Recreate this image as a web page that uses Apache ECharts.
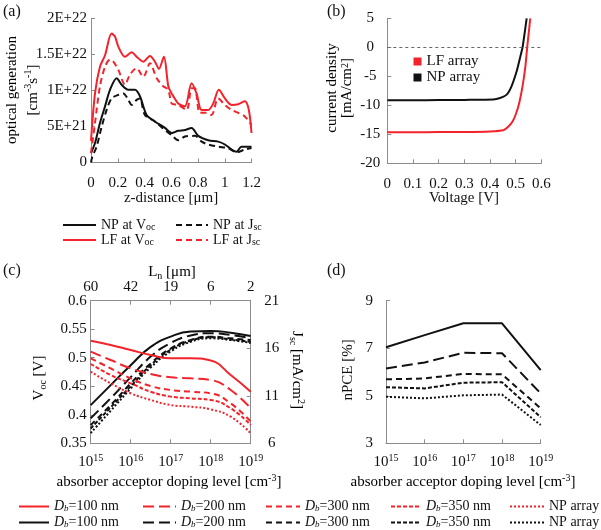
<!DOCTYPE html>
<html><head><meta charset="utf-8">
<script src="https://cdn.jsdelivr.net/npm/echarts@6/dist/echarts.min.js"></script>
<style>html,body{margin:0;padding:0;background:#fff}#c{width:601px;height:530px}</style>
</head><body><div id="c"></div>
<script>
// ---------- Panel (a): optical generation (units of 1E21 cm^-3 s^-1) ----------
const zLFvoc = [[0,3.0],[0.03,9.6],[0.067,13.3],[0.105,14.9],[0.154,17.9],[0.179,17.5],[0.204,16.1],[0.254,14.7],[0.304,15.3],[0.341,14.7],[0.391,14.0],[0.441,14.8],[0.478,14.0],[0.508,13.0],[0.545,14.7],[0.578,10.6],[0.603,9.6],[0.652,8.2],[0.702,7.8],[0.752,11.0],[0.789,9.6],[0.827,7.3],[0.877,7.3],[0.914,8.2],[0.956,10.1],[1.001,8.9],[1.051,8.0],[1.101,8.1],[1.15,8.5],[1.18,7.3],[1.2,4.1]];
const zLFjsc = [[0,1.3],[0.03,5.5],[0.067,10.6],[0.105,13.3],[0.142,14.3],[0.167,14.0],[0.204,12.9],[0.254,10.8],[0.291,12.2],[0.341,13.1],[0.391,11.9],[0.441,13.8],[0.491,11.7],[0.54,10.6],[0.578,10.1],[0.603,8.2],[0.652,8.0],[0.715,7.3],[0.752,10.3],[0.777,10.3],[0.814,6.9],[0.864,6.9],[0.901,6.6],[0.951,8.9],[1.001,8.0],[1.051,7.3],[1.101,6.9],[1.15,6.4],[1.2,5.2]];
const zNPvoc = [[0,1.3],[0.03,2.7],[0.067,5.5],[0.105,7.8],[0.142,10.1],[0.192,11.7],[0.229,10.8],[0.279,10.1],[0.329,10.1],[0.366,9.2],[0.416,6.6],[0.478,5.7],[0.553,4.8],[0.603,4.1],[0.652,4.4],[0.702,4.5],[0.752,4.8],[0.802,3.7],[0.877,3.1],[0.951,2.9],[1.001,2.5],[1.051,1.8],[1.088,1.5],[1.125,2.2],[1.2,2.2]];
const zNPjsc = [[0,0],[0.01,0.8],[0.042,2.2],[0.08,5.0],[0.117,7.3],[0.154,8.9],[0.204,9.4],[0.242,9.6],[0.279,8.7],[0.304,8.0],[0.341,8.7],[0.366,8.9],[0.403,6.6],[0.478,5.7],[0.553,4.5],[0.603,3.8],[0.652,3.1],[0.702,3.6],[0.777,3.7],[0.827,2.9],[0.877,2.5],[0.951,2.2],[1.026,2.0],[1.088,1.4],[1.15,1.8],[1.2,2.0]];
const yLabelsA = ['0','5E+21','1E+22','1.5E+22','2E+22'];

// ---------- Panel (b): J-V curves ----------
const jvNP = [[0,-9.15],[0.1,-9.12],[0.2,-9.1],[0.3,-9.07],[0.413,-9.0],[0.439,-8.74],[0.465,-8.16],[0.484,-6.72],[0.504,-4.14],[0.517,-1.84],[0.527,0],[0.536,2.76],[0.543,5.0]];
const jvLF = [[0,-14.65],[0.1,-14.64],[0.2,-14.62],[0.3,-14.6],[0.4,-14.5],[0.452,-14.3],[0.471,-13.7],[0.488,-12.8],[0.501,-11.5],[0.514,-9.6],[0.527,-6.7],[0.538,-3.3],[0.545,0],[0.553,3.3],[0.557,5.0]];

// ---------- Panel (c): Voc / Jsc vs doping ----------
const dopingC = [1e15,3.16e15,1e16,3.16e16,1e17,3.16e17,1e18,3.16e18,1e19];
const lnLabels = ['60','42','19','6','2'];
const voc100 = [0.417,0.452,0.487,0.519,0.537,0.546,0.547,0.544,0.538];
const voc200 = [0.394,0.429,0.466,0.502,0.526,0.539,0.543,0.540,0.534];
const voc300 = [0.382,0.417,0.455,0.490,0.516,0.531,0.537,0.534,0.531];
const voc350 = [0.376,0.413,0.450,0.487,0.514,0.530,0.536,0.532,0.528];
const vocNP  = [0.368,0.407,0.446,0.483,0.511,0.528,0.534,0.531,0.526];
const jsc100 = [16.79,16.34,15.81,15.29,14.94,14.94,14.70,13.18,11.43];
const jsc200 = [15.64,14.76,13.88,13.29,12.94,12.83,12.66,11.61,9.68];
const jsc300 = [14.94,13.88,12.83,12.03,11.61,11.43,11.26,10.20,8.28];
const jsc350 = [14.34,13.18,12.31,11.43,10.91,10.73,10.56,9.68,7.93];
const jscNP  = [13.53,12.31,11.26,10.56,10.03,9.85,9.57,8.80,7.05];

// ---------- Panel (d): nPCE vs doping ----------
const dopingD = [1e15,1e16,1e17,1e18,1e19];
const pce100 = [7.04,7.55,8.05,8.05,6.08];
const pce200 = [6.15,6.40,6.81,6.79,5.10];
const pce300 = [5.69,5.73,5.92,5.90,4.47];
const pce350 = [5.36,5.31,5.55,5.57,4.10];
const pceNP  = [4.96,4.89,5.02,5.05,3.77];

// ---------- styling ----------
const FF = 'Liberation Serif';
const RED = '#f2232b';
const PINK = '#ef3e5c';
const BLK = '#111111';
const AX = '#8c8c8c';
const rich = {
  n: {fontFamily: FF, fontSize: 15, color: BLK, lineHeight: 18},
  sup: {fontFamily: FF, fontSize: 10, color: BLK, verticalAlign: 'top', lineHeight: 10},
  sub: {fontFamily: FF, fontSize: 10, color: BLK, verticalAlign: 'bottom', lineHeight: 10}
};
function richC(color){
  const r = {};
  for (const k in rich) r[k] = Object.assign({}, rich[k], {color});
  return r;
}
const dashes = {d100: 'solid', d200: [11,5], d300: [6,4], d350: [4,2], dNP: [2,2]};

function axBase(extra){
  return Object.assign({
    splitLine: {show: false},
    axisLine: {show: true, onZero: false, lineStyle: {color: AX, width: 1}},
    axisTick: {show: true, inside: true, length: 4, lineStyle: {color: AX}},
    axisLabel: {fontFamily: FF, fontSize: 15, color: BLK}
  }, extra);
}

const chart = echarts.init(document.getElementById('c'));

const pair = (xs, ys) => xs.map((x, i) => [x, ys[i]]);

function lineSeries(name, data, xi, yi, color, dash, smooth){
  return {
    type: 'line', name, data, xAxisIndex: xi, yAxisIndex: yi,
    symbol: 'none', showSymbol: false, smooth: smooth,
    lineStyle: {color, width: 2, type: dash},
    itemStyle: {color}, emphasis: {disabled: true}, silent: true
  };
}

const series = [
  lineSeries('NPVoc', zNPvoc, 0, 0, BLK, 'solid', 0.3),
  lineSeries('NPJsc', zNPjsc, 0, 0, BLK, [6,4], 0.3),
  lineSeries('LFVoc', zLFvoc, 0, 0, RED, 'solid', 0.3),
  lineSeries('LFJsc', zLFjsc, 0, 0, RED, [6,4], 0.3),
  Object.assign(lineSeries('NP array', jvNP, 1, 1, BLK, 'solid', 0.2), {
    markLine: {silent: true, symbol: 'none', label: {show: false},
      lineStyle: {color: '#666', width: 1, type: [3,3]}, data: [{yAxis: 0}]}
  }),
  lineSeries('LF array', jvLF, 1, 1, RED, 'solid', 0.2),
  lineSeries('k100', pair(dopingC, voc100), 2, 2, BLK, dashes.d100, true),
  lineSeries('k200', pair(dopingC, voc200), 2, 2, BLK, dashes.d200, true),
  lineSeries('k300', pair(dopingC, voc300), 2, 2, BLK, dashes.d300, true),
  lineSeries('k350', pair(dopingC, voc350), 2, 2, BLK, dashes.d350, true),
  lineSeries('kNP', pair(dopingC, vocNP), 2, 2, BLK, dashes.dNP, true),
  lineSeries('r100', pair(dopingC, jsc100), 2, 3, RED, dashes.d100, true),
  lineSeries('r200', pair(dopingC, jsc200), 2, 3, RED, dashes.d200, true),
  lineSeries('r300', pair(dopingC, jsc300), 2, 3, RED, dashes.d300, true),
  lineSeries('r350', pair(dopingC, jsc350), 2, 3, RED, dashes.d350, true),
  lineSeries('rNP', pair(dopingC, jscNP), 2, 3, RED, dashes.dNP, true),
  lineSeries('p100', pair(dopingD, pce100), 4, 4, BLK, dashes.d100, false),
  lineSeries('p200', pair(dopingD, pce200), 4, 4, BLK, dashes.d200, false),
  lineSeries('p300', pair(dopingD, pce300), 4, 4, BLK, dashes.d300, false),
  lineSeries('p350', pair(dopingD, pce350), 4, 4, BLK, dashes.d350, false),
  lineSeries('pNP', pair(dopingD, pceNP), 4, 4, BLK, dashes.dNP, false)
];

const legRich = {
  t: {fontFamily: FF, fontSize: 14, color: BLK, lineHeight: 14},
  i: {fontFamily: FF, fontSize: 14, color: BLK, fontStyle: 'italic', lineHeight: 14},
  sb: {fontFamily: FF, fontSize: 9, color: BLK, fontStyle: 'italic', verticalAlign: 'bottom', lineHeight: 9},
  s: {fontFamily: FF, fontSize: 10, color: BLK, verticalAlign: 'bottom', lineHeight: 10}
};
const legendNames = {
  NPVoc: '{t|NP at V}{s|oc}', NPJsc: '{t|NP at J}{s|sc}',
  LFVoc: '{t|LF at V}{s|oc}', LFJsc: '{t|LF at J}{s|sc}',
  r100: '{i|D}{sb|b}{t|=100 nm}', k100: '{i|D}{sb|b}{t|=100 nm}',
  r200: '{i|D}{sb|b}{t|=200 nm}', k200: '{i|D}{sb|b}{t|=200 nm}',
  r300: '{i|D}{sb|b}{t|=300 nm}', k300: '{i|D}{sb|b}{t|=300 nm}',
  r350: '{i|D}{sb|b}{t|=350 nm}', k350: '{i|D}{sb|b}{t|=350 nm}',
  rNP: '{t|NP array}', kNP: '{t|NP array}'
};
function lineLegend(data, left, top, w, gap){
  return {data, left, top, width: 110, height: 40, padding: 0, orient: 'vertical',
    itemWidth: w, itemHeight: 10, itemGap: gap,
    selectedMode: false, formatter: n => legendNames[n], textStyle: {rich: legRich},
    itemStyle: {color: 'rgba(0,0,0,0)', borderColor: 'rgba(0,0,0,0)', borderWidth: 0, opacity: 0}};
}

const option = {
  animation: false,
  backgroundColor: '#fff',
  grid: [
    {left: 91, top: 18.5, width: 160.5, height: 144},
    {left: 387.3, top: 18.3, width: 154, height: 145},
    {left: 90.7, top: 300.7, width: 160, height: 142.6},
    {left: 386, top: 300.7, width: 154.7, height: 142.6}
  ],
  xAxis: [
    axBase({gridIndex: 0, type: 'value', min: 0, max: 1.2, interval: 0.2,
      axisLabel: {fontFamily: FF, fontSize: 15, color: BLK, margin: 13}}),
    axBase({gridIndex: 1, type: 'value', min: 0, max: 0.6, interval: 0.1,
      axisLabel: {fontFamily: FF, fontSize: 15, color: BLK, margin: 13}}),
    axBase({gridIndex: 2, type: 'log', min: 1e15, max: 1e19, logBase: 10,
      axisLabel: {margin: 10, rich, formatter: v => '{n|10}{sup|' + Math.round(Math.log10(v)) + '}'}}),
    axBase({gridIndex: 2, type: 'log', position: 'top', min: 1e15, max: 1e19, logBase: 10,
      axisLabel: {margin: 6, fontFamily: FF, fontSize: 15, color: BLK,
        formatter: v => lnLabels[Math.round(Math.log10(v)) - 15]}}),
    axBase({gridIndex: 3, type: 'log', min: 1e15, max: 1e19, logBase: 10,
      axisLabel: {margin: 10, rich, formatter: v => '{n|10}{sup|' + Math.round(Math.log10(v)) + '}'}})
  ],
  yAxis: [
    axBase({gridIndex: 0, type: 'value', min: 0, max: 20, interval: 5,
      axisLabel: {fontFamily: FF, fontSize: 15, color: BLK, margin: 4, formatter: (v, i) => yLabelsA[i]}}),
    axBase({gridIndex: 1, type: 'value', min: -20, max: 5, interval: 5,
      axisLabel: {fontFamily: FF, fontSize: 15, color: BLK, margin: 17, align: 'center'}}),
    axBase({gridIndex: 2, type: 'value', min: 0.35, max: 0.6, interval: 0.05,
      axisLabel: {fontFamily: FF, fontSize: 15, color: BLK, margin: 4}}),
    axBase({gridIndex: 2, type: 'value', position: 'right', min: 6, max: 21, interval: 5,
      axisLabel: {fontFamily: FF, fontSize: 15, color: BLK, margin: 21, align: 'center'}}),
    axBase({gridIndex: 3, type: 'value', min: 3, max: 9, interval: 2,
      axisLabel: {fontFamily: FF, fontSize: 15, color: BLK, margin: 13}})
  ],
  legend: [
    lineLegend(['NPVoc', 'LFVoc'], 62, 218, 33, 1),
    lineLegend(['NPJsc', 'LFJsc'], 175, 218, 32, 1),
    {data: ['LF array', 'NP array'], left: 413.5, top: 53.5, padding: 0, orient: 'vertical', icon: 'rect',
      itemWidth: 8, itemHeight: 8, itemGap: 0, selectedMode: false,
      textStyle: {fontFamily: FF, fontSize: 15, color: BLK, lineHeight: 16}},
    lineLegend(['r100', 'k100'], 18, 499.5, 30, 2),
    lineLegend(['r200', 'k200'], 142, 499.5, 33, 2),
    lineLegend(['r300', 'k300'], 265, 499.5, 34, 2),
    lineLegend(['r350', 'k350'], 390, 499.5, 30, 2),
    lineLegend(['rNP', 'kNP'], 509, 499.5, 34, 2)
  ],
  graphic: [
    {type: 'text', x: 3, y: 4, style: {text: '(a)', font: '16px "Liberation Serif"', fill: BLK}},
    {type: 'text', x: 327, y: 4, style: {text: '(b)', font: '16px "Liberation Serif"', fill: BLK}},
    {type: 'text', x: 3, y: 263, style: {text: '(c)', font: '16px "Liberation Serif"', fill: BLK}},
    {type: 'text', x: 327, y: 263, style: {text: '(d)', font: '16px "Liberation Serif"', fill: BLK}},
    {type: 'text', x: 23, y: 90, rotation: Math.PI / 2,
      style: {text: '{n|optical generation}\n{n|[cm}{sup|-3}{n|s}{sup|-1}{n|]}', rich: Object.assign({}, rich, {n: Object.assign({}, rich.n, {lineHeight: 21})}), align: 'center', verticalAlign: 'middle'}},
    {type: 'text', x: 171, y: 198,
      style: {text: 'z-distance [μm]', font: '15px "Liberation Serif"', fill: BLK, align: 'center', verticalAlign: 'middle'}},
    {type: 'text', x: 340, y: 88, rotation: Math.PI / 2,
      style: {text: '{n|current density}\n{n|[mA/cm}{sup|2}{n|]}', rich: Object.assign({}, rich, {n: Object.assign({}, rich.n, {lineHeight: 15})}), align: 'center', verticalAlign: 'middle'}},
    {type: 'text', x: 464, y: 198,
      style: {text: 'Voltage [V]', font: '15px "Liberation Serif"', fill: BLK, align: 'center', verticalAlign: 'middle'}},
    {type: 'text', x: 172, y: 272,
      style: {text: '{n|L}{sub|n}{n| [μm]}', rich, align: 'center', verticalAlign: 'middle'}},
    {type: 'text', x: 39, y: 378, rotation: Math.PI / 2,
      style: {text: '{n|V}{sub|oc}{n| [V]}', rich, align: 'center', verticalAlign: 'middle'}},
    {type: 'text', x: 297, y: 370, rotation: -Math.PI / 2,
      style: {text: '{n|J}{sub|sc}{n| [mA/cm}{sup|2}{n|]}', rich: richC(PINK), align: 'center', verticalAlign: 'middle'}},
    {type: 'text', x: 348, y: 370, rotation: Math.PI / 2,
      style: {text: 'nPCE [%]', font: '15px "Liberation Serif"', fill: BLK, align: 'center', verticalAlign: 'middle'}},
    {type: 'text', x: 169, y: 482,
      style: {text: '{n|absorber acceptor doping level [cm}{sup|-3}{n|]}', rich, align: 'center', verticalAlign: 'middle'}},
    {type: 'text', x: 463, y: 482,
      style: {text: '{n|absorber acceptor doping level [cm}{sup|-3}{n|]}', rich, align: 'center', verticalAlign: 'middle'}}
  ],
  series
};
chart.setOption(option);
</script></body></html>
